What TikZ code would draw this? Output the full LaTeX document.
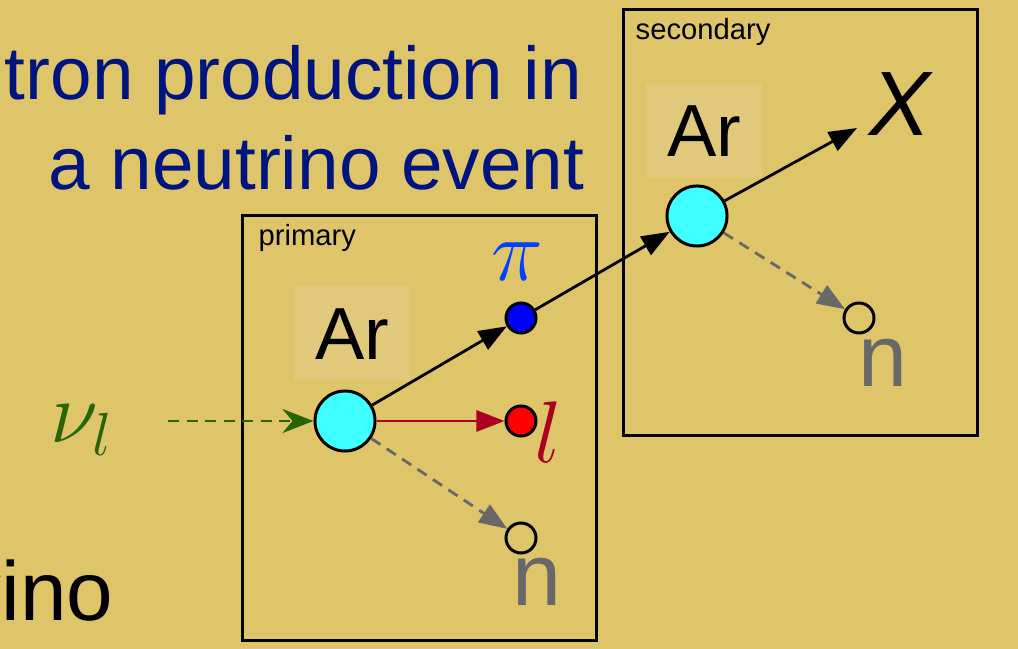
\documentclass[tikz,border=0pt]{standalone}
\usepackage{fontspec}
\setmainfont{Liberation Sans}
\usepackage{tikz}
\usetikzlibrary{arrows.meta, positioning}
\definecolor{slidebg}{RGB}{223,197,106}
\definecolor{arpatch}{RGB}{225,201,124}
\definecolor{titleblue}{RGB}{0,20,128}
\definecolor{pionblue}{RGB}{0,64,255}
\definecolor{lepred}{RGB}{172,0,32}
\definecolor{nugreen}{RGB}{40,100,0}
\definecolor{neutgray}{RGB}{104,104,104}
\definecolor{nucleus}{RGB}{64,255,255}

\begin{document}
\begin{tikzpicture}[
  x=0.01cm, y=-0.01cm,
  >={Triangle[length=2.8mm, width=2.1mm]},
  stage/.style={draw, line width=0.85pt, minimum width=3.53cm,
    minimum height=4.25cm, inner sep=0pt},
  target/.style={circle, draw, line width=0.85pt, fill=nucleus,
    minimum size=0.6cm, inner sep=0pt},
  prod/.style={circle, draw, line width=0.85pt,
    minimum size=0.3cm, inner sep=0pt},
  patch/.style={fill=arpatch, minimum width=1.16cm,
    minimum height=0.93cm, inner sep=0pt},
  tag/.style={font=\fontsize{8.3}{10}\selectfont, anchor=base west,
    inner sep=0pt},
  track/.style={->, line width=0.8pt},
  ntrack/.style={->, line width=0.8pt, neutgray,
    dash pattern=on 1.1mm off 0.75mm}
]
  % Slide background
  \fill[slidebg] (0,0) rectangle (1018,649);
  \useasboundingbox (0,0) rectangle (1018,649);
  \begin{scope}
  \clip (0,0) rectangle (1018,649);
  % Title, cut at the left edge
  \node[font=\fontsize{21.25}{25}\selectfont, text=titleblue, anchor=base east,
    inner sep=0pt] (title1) at (583,100) {Neutron production in};
  \node[font=\fontsize{21.25}{25}\selectfont, text=titleblue, anchor=base east,
    inner sep=0pt] (title2) at (585,190) {a neutrino event};
  \node[font=\fontsize{23.8}{30}\selectfont, anchor=base east,
    inner sep=0pt] (bottom) at (114,620) {vino};
  \end{scope}

  % Frames
  \node[stage] (primbox) at (419.5,428) {};
  \node[stage] (secbox) at (800.5,222.5) {};
  \node[tag] (primlab) at (258,246) {primary};
  \node[tag] (seclab) at (635,40) {secondary};

  % Argon labels
  \node[patch] (patchP) at (352,333) {};
  \node[patch] (patchS) at (704,130.5) {};
  \node[font=\fontsize{21}{25}\selectfont] (arlabP) at (352,334) {Ar};
  \node[font=\fontsize{21}{25}\selectfont] (arlabS) at (704,131) {Ar};

  % Vertices and products
  \node[target] (arP) at (345,421) {};
  \node[target] (arS) at (697,216) {};
  \node[prod, fill=blue] (pion) at (521,318) {};
  \node[prod, fill=red] (lep) at (521,421) {};
  \node[prod] (neuP) at (521,538) {};
  \node[prod] (neuS) at (859,318) {};
  \coordinate (nustart) at (168,421);
  \coordinate (xend) at (857,128);

  % Particle labels
  \node[text=nugreen, font=\fontsize{27}{30}\selectfont] (nulab) at (82,430)
    {$\nu_{l}$};
  \node[text=pionblue, font=\fontsize{26}{30}\selectfont] (pilab) at (517,262)
    {$\pi$};
  \node[text=lepred, font=\fontsize{24}{28}\selectfont] (leplab) at (548,432)
    {$l$};
  \node[text=neutgray, font=\fontsize{25}{30}\selectfont] (nlabP) at (537,582)
    {n};
  \node[text=neutgray, font=\fontsize{25}{30}\selectfont] (nlabS) at (883,363)
    {n};
  \node[font=\fontsize{26}{30}\selectfont\itshape] (xlab) at (900,104) {X};

  % Tracks
  \draw[->, line width=0.8pt, nugreen, dash pattern=on 1.1mm off 0.75mm,
    >={Stealth[length=3.1mm, width=2.4mm, inset=1mm]}] (nustart) -- (arP);
  \draw[track] (arP) -- (pion);
  \draw[track] (pion) -- (arS);
  \draw[track] (arS) -- (xend);
  \draw[track, lepred] (arP) -- (lep);
  \draw[ntrack] (arP) -- (neuP);
  \draw[ntrack] (arS) -- (neuS);
\end{tikzpicture}
\end{document}
